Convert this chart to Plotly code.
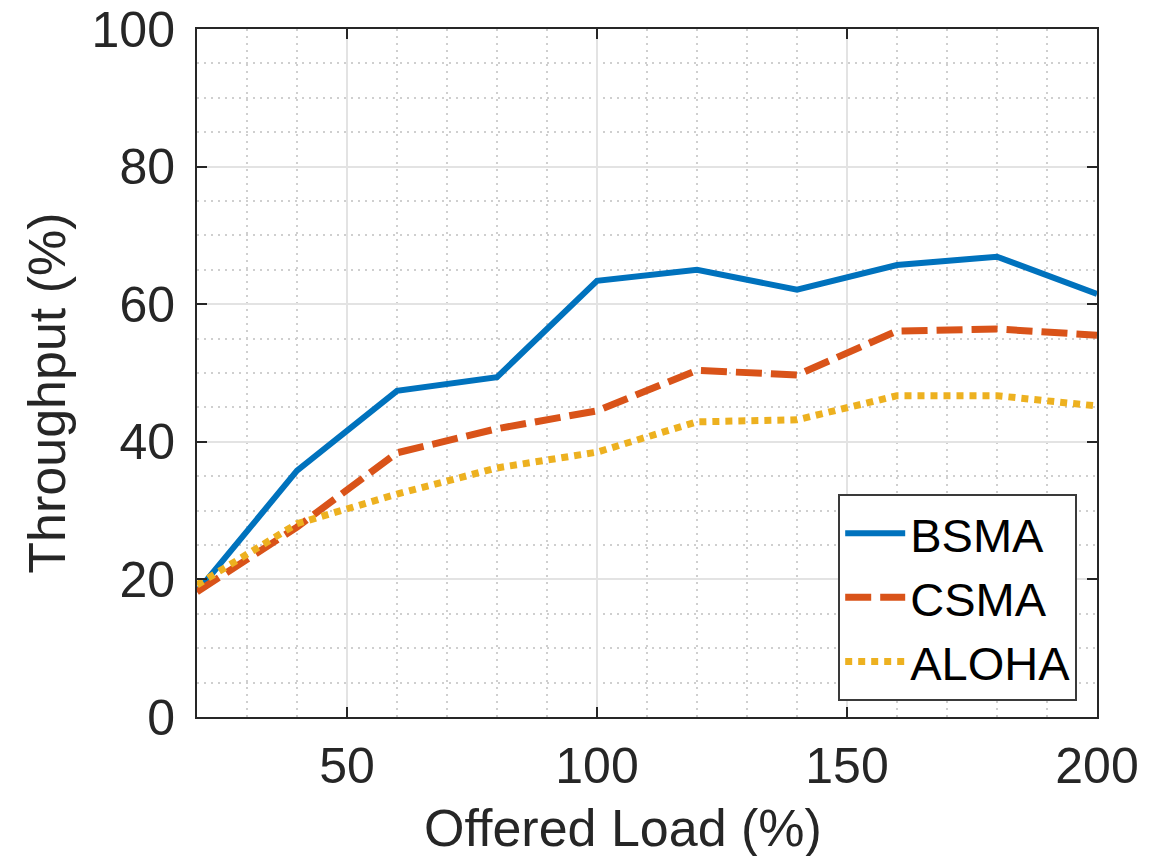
import plotly.graph_objects as go

# Offered load (%) and throughput (%) for each MAC protocol
offered_load = [20, 40, 60, 80, 100, 120, 140, 160, 180, 200]
bsma = [18.2, 35.8, 47.4, 49.4, 63.4, 65.0, 62.1, 65.7, 66.9, 61.5]
csma = [18.2, 27.6, 38.4, 41.9, 44.5, 50.4, 49.7, 56.1, 56.4, 55.5]
aloha = [19.2, 28.1, 32.4, 36.2, 38.5, 42.9, 43.2, 46.7, 46.7, 45.2]

x_ticks = [50, 100, 150, 200]
y_ticks = [0, 20, 40, 60, 80, 100]

FONT = "Liberation Sans, Arial, Helvetica, sans-serif"
AXIS_COLOR = "#262626"

fig = go.Figure()
fig.add_trace(go.Scatter(x=offered_load, y=bsma, name="BSMA", mode="lines",
                         line=dict(color="#0072BD", width=6)))
fig.add_trace(go.Scatter(x=offered_load, y=csma, name="CSMA", mode="lines",
                         line=dict(color="#D95319", width=7, dash="26px,9px")))
fig.add_trace(go.Scatter(x=offered_load, y=aloha, name="ALOHA", mode="lines",
                         line=dict(color="#EDB120", width=7, dash="7px,6px")))

axis_common = dict(
    showline=True, linecolor=AXIS_COLOR, linewidth=2, mirror="ticks",
    ticks="inside", ticklen=10, tickwidth=2, tickcolor=AXIS_COLOR,
    showgrid=True, gridcolor="#e3e3e3", gridwidth=1.5,
    zeroline=False, automargin=False,
    tickfont=dict(family=FONT, size=50, color=AXIS_COLOR),
)
minor_grid = dict(showgrid=True, gridcolor="#cfcfcf", griddash="2px,5px",
                  gridwidth=1.5, ticks="")

fig.update_xaxes(
    range=[20, 200], tickmode="array", tickvals=x_ticks,
    minor=dict(dtick=10, **minor_grid),
    ticklabelstandoff=4,
    **axis_common,
)
fig.update_yaxes(
    range=[0, 100], tickmode="array", tickvals=y_ticks,
    minor=dict(dtick=5, **minor_grid),
    ticklabelstandoff=10,
    **axis_common,
)

# Axis titles
title_font = dict(family=FONT, size=52, color=AXIS_COLOR)
fig.add_annotation(text="Offered Load (%)", xref="paper", yref="paper",
                   x=0.473, y=-0.161, xanchor="center", yanchor="middle",
                   showarrow=False, font=title_font)
fig.add_annotation(text="Throughput (%)", xref="paper", yref="paper",
                   x=-0.167, y=0.471, xanchor="center", yanchor="middle",
                   textangle=-90, showarrow=False, font=title_font)

fig.update_layout(
    width=1160, height=856,
    margin=dict(l=197, r=63, t=29, b=139),
    plot_bgcolor="white", paper_bgcolor="white",
    font=dict(family=FONT, color="#000000"),
    showlegend=True,
    legend=dict(
        x=0.978, y=0.023, xanchor="right", yanchor="bottom",
        bgcolor="white", bordercolor="#3a3a3a", borderwidth=2,
        font=dict(family=FONT, size=47, color="#000000"),
        itemwidth=60, tracegroupgap=0,
    ),
)

fig.write_html("out.html")
